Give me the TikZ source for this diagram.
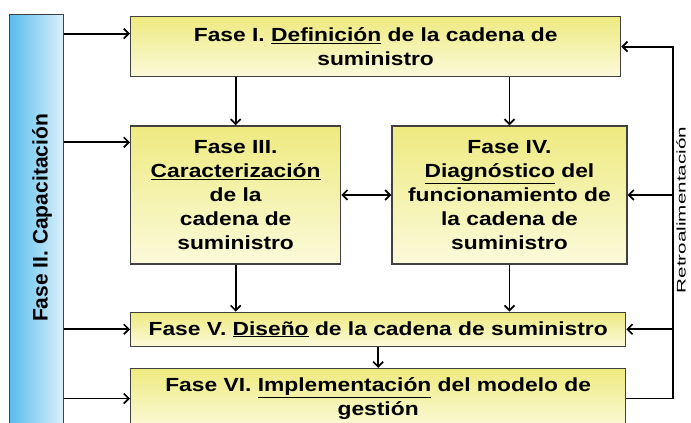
\documentclass[tikz,border=0pt]{standalone}
\usepackage{fontspec}
\setmainfont{Liberation Sans}
\newfontfamily\boxfont{Liberation Sans}[FakeStretch=1.2]
\newfontfamily\retrofont{Liberation Sans}[FakeStretch=1.65]
\usetikzlibrary{positioning, arrows.meta}
\definecolor{faseTop}{RGB}{238,234,128}
\definecolor{faseBot}{RGB}{251,250,218}
\definecolor{barLeft}{RGB}{88,188,235}
\definecolor{barRight}{RGB}{218,240,251}
\definecolor{edgeGray}{RGB}{64,64,64}
\tikzset{
	fase/.style={draw=edgeGray, line width=1.3pt, top color=faseTop, bottom color=faseBot,
		align=center, inner sep=0pt, font=\boxfont\bfseries\fontsize{19}{24}\selectfont},
	arr/.style={line width=1.7pt, -{Straight Barb[length=5pt,width=10pt]}},
	darr/.style={line width=1.7pt, {Straight Barb[length=5pt,width=10pt]}-{Straight Barb[length=5pt,width=10pt]}},
}

\begin{document}
\begin{tikzpicture}[x=1pt, y=1pt]
	\clip (0,0) rectangle (691,-423);
	\fill[white] (0,0) rectangle (691,-423);

	\node[draw=edgeGray, line width=1.2pt, left color=barLeft, right color=barRight,
		anchor=north west, minimum width=54pt, minimum height=420pt, inner sep=0pt] (faseII) at (9,-14) {};
	\node[rotate=90, font=\bfseries\fontsize{21}{24}\selectfont] (faseIItext) at (42,-218) {Fase II. Capacitación};

	\node[fase, anchor=north west, minimum width=490pt, minimum height=60pt] (faseI) at (130,-16)
		{Fase I. \underline{Definición} de la cadena de\\suministro};
	\node[fase, below=48pt of faseI.south west, anchor=north west, minimum width=210pt, minimum height=138pt] (faseIII)
		{Fase III.\\\underline{Caracterización}\\de la\\cadena de\\suministro};
	\node[fase, right=50pt of faseIII.north east, anchor=north west, minimum width=235pt, minimum height=138pt] (faseIV)
		{Fase IV.\\\underline{Diagnóstico} del\\funcionamiento de\\la cadena de\\suministro};
	\node[fase, below=47pt of faseIII.south west, anchor=north west, minimum width=495pt, minimum height=34pt] (faseV)
		{Fase V. \underline{Diseño} de la cadena de suministro};
	\node[fase, below=21pt of faseV.south west, anchor=north west, minimum width=495pt, minimum height=60pt] (faseVI)
		{Fase VI. \underline{Implementación} del modelo de\\gestión};

	\coordinate (fbtop) at ([xshift=52pt]faseI.east);
	\node[rotate=90, anchor=north, inner sep=0pt, font=\retrofont\fontsize{12.5}{14}\selectfont] (retro)
		at ([xshift=3pt]fbtop |- 0,-210) {Retroalimentación};

	\draw[arr] ([yshift=13pt]faseI.west -| faseII.east) -- ([yshift=13pt]faseI.west);
	\draw[arr] ([yshift=-17pt]faseIII.north west -| faseII.east) -- ([yshift=-17pt]faseIII.north west);
	\draw[arr] (faseV.west -| faseII.east) -- (faseV.west);
	\draw[arr] (faseVI.west -| faseII.east) -- (faseVI.west);

	\draw[arr] (faseI.south -| faseIII.north) -- (faseIII.north);
	\draw[arr] (faseI.south -| faseIV.north) -- (faseIV.north);
	\draw[darr] (faseIII.east) -- (faseIV.east -| faseIV.west);
	\draw[arr] (faseIII.south) -- (faseV.north -| faseIII.south);
	\draw[arr] (faseIV.south) -- (faseV.north -| faseIV.south);
	\draw[arr] (faseV.south) -- (faseVI.north);

	\draw[arr] (faseVI.east) -| (fbtop) -- (faseI.east);
	\draw[arr] (fbtop |- faseIV.east) -- (faseIV.east);
	\draw[arr] (fbtop |- faseV.east) -- (faseV.east);
\end{tikzpicture}
\end{document}
